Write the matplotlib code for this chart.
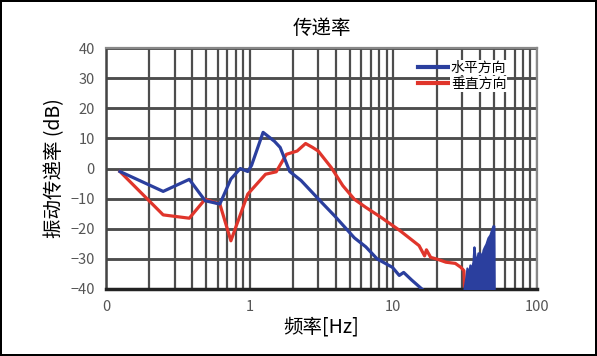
import matplotlib
matplotlib.use('Agg')
import matplotlib.pyplot as plt
from matplotlib.ticker import FixedLocator, LogLocator, NullFormatter

plt.rcParams['font.family'] = ['Noto Sans CJK SC', 'DejaVu Sans']

# 水平方向 (blue)
h_freq = [0.125, 0.25, 0.38, 0.49, 0.62, 0.74, 0.86, 0.97, 1.03, 1.24, 1.49, 1.63,
          1.90, 2.28, 3.09, 3.95, 5.35, 6.43, 7.71, 9.85, 11.0, 11.8, 13.4, 15.8]
h_db = [-1, -7.6, -3.6, -10.7, -11.8, -3.5, 0, -1, 1, 12, 9, 7,
        -1, -4, -10.7, -16, -23, -26, -30, -32.8, -35.5, -34.5, -37, -40]

# 水平方向, noisy band above 30 Hz (upper envelope)
hn_freq = [31.0, 32.0, 32.5, 33.3, 34.1, 35.0, 35.8, 36.4, 37.0, 37.8, 38.8, 40.1,
           41.0, 42.1, 43.0, 44.1, 45.5, 47.0, 48.5, 49.3, 50.1, 50.4]
hn_top = [-40, -36, -33, -35, -32, -33, -31, -26, -29, -31, -28, -28,
          -30, -27, -26, -25, -23, -22, -20, -19, -19, -40]

# 垂直方向 (red)
v_freq = [0.125, 0.25, 0.38, 0.49, 0.62, 0.74, 0.97, 1.29, 1.53, 1.8, 2.14, 2.45,
          2.74, 3.0, 3.7, 4.45, 5.35, 6.43, 8.2, 11.1, 15.1, 16.5, 17.0, 18.2,
          20.5, 23.2, 27.0, 29.5, 31.0, 31.5, 32.0, 43.0, 43.4, 43.8]
v_db = [-1, -15.4, -16.5, -10.2, -11.8, -24, -8.5, -1.9, -1.1, 4.7, 5.8, 8.3,
        7, 5.8, 0.3, -5.7, -10.2, -12.9, -16.2, -20.6, -25.6, -29, -27, -29.5,
        -30.2, -31.1, -31.5, -32.8, -33.9, -42, -42, -42, -34, -42]

y_ticks = [-40, -30, -20, -10, 0, 10, 20, 30, 40]
x_ticks = [0.1, 1, 10, 100]
x_labels = ['0', '1', '10', '100']

blue = '#2b3f9e'
red = '#e0352b'
grid_c = '#4d4d4d'

fig = plt.figure(figsize=(5.97, 3.56), dpi=100, linewidth=1.5, edgecolor='black')
rect = [106 / 597, 1 - 289 / 356, (537 - 106) / 597, (289 - 48) / 356]

# background axes carrying the horizontal grid
axg = fig.add_axes(rect, zorder=0)
axg.set_xlim(0, 1)
axg.set_ylim(-40, 40)
axg.hlines(y_ticks, 0, 1, colors=grid_c, lw=1.8)
axg.axis('off')

ax = fig.add_axes(rect, zorder=1)
ax.patch.set_alpha(0)

ax.set_xscale('log')
ax.set_xlim(0.1, 100)
ax.set_ylim(-40, 40)
ax.set_yticks(y_ticks)
ax.xaxis.set_major_locator(FixedLocator(x_ticks))
ax.xaxis.set_minor_locator(LogLocator(base=10, subs=range(2, 10)))
ax.xaxis.set_minor_formatter(NullFormatter())
ax.set_xticklabels(x_labels)
ax.xaxis.grid(True, which='both', color=grid_c, lw=1.6)
ax.yaxis.grid(True, which='major', color=grid_c, lw=1.8)

ax.plot(v_freq, v_db, color=red, lw=2.3, label='垂直方向', zorder=2)
ax.fill_between(hn_freq, -40, hn_top, color=blue, lw=1.5, edgecolor=blue, zorder=3)
ax.plot(h_freq, h_db, color=blue, lw=2.3, label='水平方向', zorder=3)

for s in ['top', 'right']:
    ax.spines[s].set_color('#888888')
    ax.spines[s].set_linewidth(1.6)
ax.spines['left'].set_color('#444444')
ax.spines['left'].set_linewidth(1.8)
ax.spines['bottom'].set_color('#222222')
ax.spines['bottom'].set_linewidth(2.5)
ax.tick_params(which='both', length=0, labelsize=10.5, colors='#555555', pad=8)

ax.set_title('传递率', fontsize=14, pad=10)
ax.set_xlabel('频率[Hz]', fontsize=14, labelpad=2)
ax.set_ylabel('振动传递率 (dB)', fontsize=14, labelpad=4)

handles, labels = ax.get_legend_handles_labels()
leg = ax.legend(handles[::-1], labels[::-1], loc='upper left', bbox_to_anchor=(0.71, 0.97),
                frameon=False, fontsize=10, handlelength=2.4, handletextpad=0.0,
                labelspacing=0.15, borderaxespad=0)
for t in leg.get_texts():
    t.set_bbox(dict(facecolor='white', edgecolor='none', pad=0.5))
for l in leg.get_lines():
    l.set_linewidth(3)

fig.savefig('out.png', dpi=100, edgecolor=fig.get_edgecolor())
